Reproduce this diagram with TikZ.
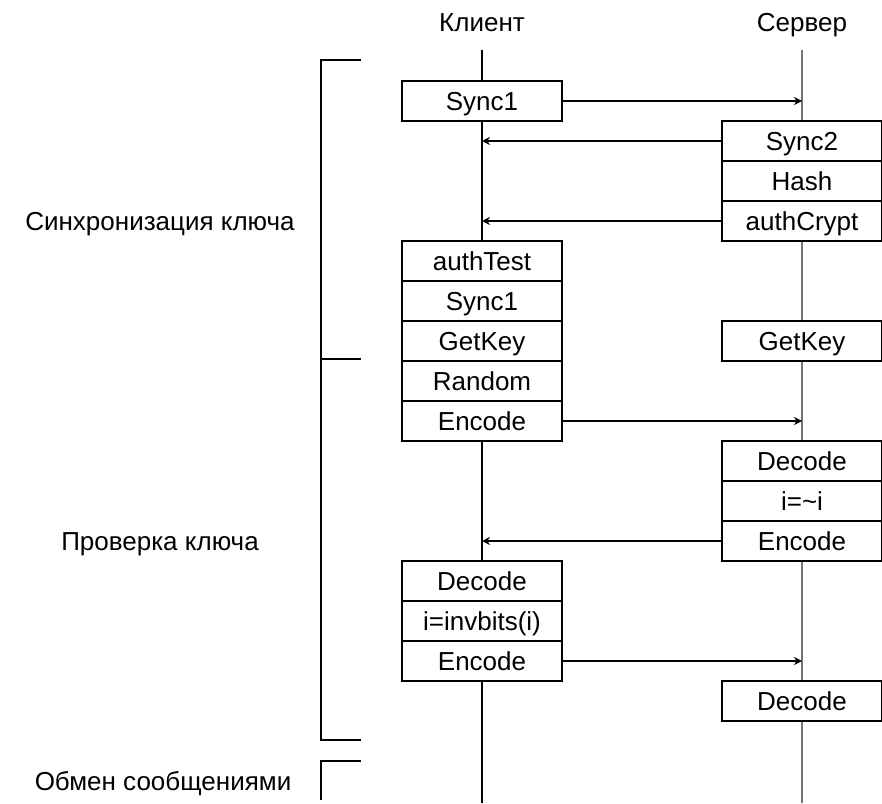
\documentclass[tikz,border=0pt]{standalone}
\usepackage{fontspec}
\setmainfont{Liberation Sans}
\usetikzlibrary{arrows.meta}
\begin{document}
\begin{tikzpicture}[x=0.5pt,y=-0.5pt,
  every node/.style={font=\fontsize{13}{15}\selectfont, inner sep=0pt, text height=9.3pt, text depth=0pt},
  opbox/.style={draw=black, line width=1pt, fill=white, minimum width=80pt, minimum height=20pt, anchor=north},
  life/.style={line width=1pt, draw=black},
  msg/.style={line width=0.75pt, draw=black, -{Stealth[length=4pt,width=4pt]}},
  brace/.style={line width=1pt, draw=black}]
\useasboundingbox (0,0) rectangle (882,803);

% participants
\node (client) at (482,22) {Клиент};
\node (server) at (802,22) {Сервер};
\coordinate (cltop) at (482,50);
\coordinate (clbot) at (482,803);
\coordinate (svtop) at (802,50);
\coordinate (svbot) at (802,803);
\draw[life] (cltop) -- (clbot);
\draw[life, draw=black!55] (svtop) -- (svbot);

% client operations
\node[opbox] (c1) at (482,80) {Sync1};
\node[opbox] (c2) at (482,240) {authTest};
\node[opbox] (c3) at (482,280) {Sync1};
\node[opbox] (c4) at (482,320) {GetKey};
\node[opbox] (c5) at (482,360) {Random};
\node[opbox] (c6) at (482,400) {Encode};
\node[opbox] (c7) at (482,560) {Decode};
\node[opbox] (c8) at (482,600) {i=invbits(i)};
\node[opbox] (c9) at (482,640) {Encode};

% server operations
\node[opbox] (s1) at (802,120) {Sync2};
\node[opbox] (s2) at (802,160) {Hash};
\node[opbox] (s3) at (802,200) {authCrypt};
\node[opbox] (s4) at (802,320) {GetKey};
\node[opbox] (s5) at (802,440) {Decode};
\node[opbox] (s6) at (802,480) {i=\textasciitilde i};
\node[opbox] (s7) at (802,520) {Encode};
\node[opbox] (s8) at (802,680) {Decode};

% messages
\draw[msg] (c1.east) -- (c1.east -| svtop);
\draw[msg] (s1.west) -- (s1.west -| cltop);
\draw[msg] (s3.west) -- (s3.west -| cltop);
\draw[msg] (c6.east) -- (c6.east -| svtop);
\draw[msg] (s7.west) -- (s7.west -| cltop);
\draw[msg] (c9.east) -- (c9.east -| svtop);

% phase brackets
\coordinate (b1) at (361,60);
\coordinate (b2) at (321,60);
\coordinate (b3) at (321,740);
\coordinate (b4) at (361,740);
\coordinate (m1) at (321,359);
\coordinate (m2) at (361,359);
\coordinate (e1) at (361,761);
\coordinate (e2) at (321,761);
\coordinate (e3) at (321,800);
\draw[brace] (b1) -- (b2) -- (b3) -- (b4);
\draw[brace] (m1) -- (m2);
\draw[brace] (e1) -- (e2) -- (e3);

% phase labels
\node (p1) at (160,221) {Синхронизация ключа};
\node (p2) at (160,541) {Проверка ключа};
\node (p3) at (163,781) {Обмен сообщениями};
\end{tikzpicture}
\end{document}
